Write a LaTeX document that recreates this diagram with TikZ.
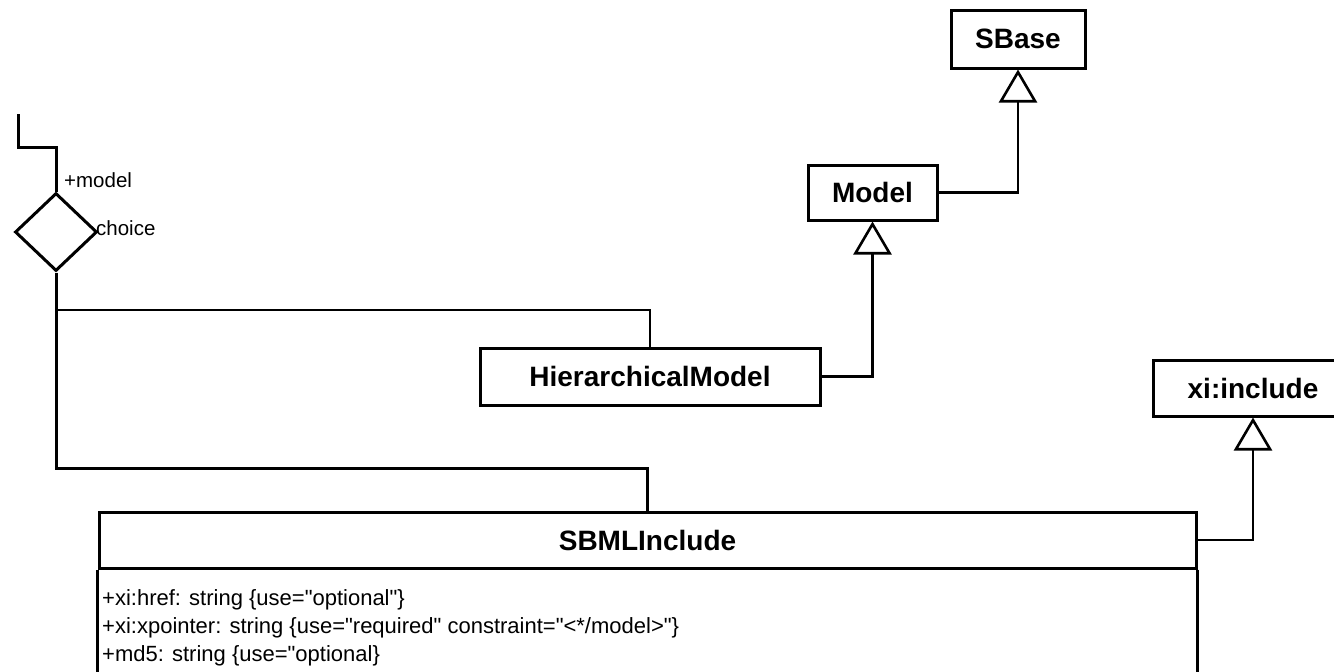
\documentclass[tikz,border=0pt]{standalone}
\usepackage{fontspec}
\setmainfont{Liberation Sans}[Ligatures=TeXOff]
\usetikzlibrary{arrows.meta,shapes.geometric}
\tikzset{
  classbox/.style={draw, line width=3pt, inner sep=0pt, fill=white,
    font=\fontsize{28}{30}\selectfont\bfseries},
  conn/.style={line width=2.6pt},
  inh/.style={line width=2.6pt, -{Triangle[open, length=33pt, width=38pt, line width=2.6pt]}},
  small/.style={font=\fontsize{20.5}{24}\selectfont, inner sep=0pt},
  attr/.style={font=\fontsize{22}{26}\selectfont, inner sep=0pt, anchor=west}
}
\begin{document}
\begin{tikzpicture}[x=1pt, y=-1pt]
\useasboundingbox (0,0) rectangle (1334,672);
\clip (0,0) rectangle (1334,672);

% classes
\node[classbox, minimum width=134pt, minimum height=58pt] (sbase) at (1018,39) {SBase};
\node[classbox, minimum width=129pt, minimum height=55pt] (model) at (872.5,192.5) {Model};
\node[classbox, minimum width=340pt, minimum height=57pt] (hm) at (650,376.5) {HierarchicalModel};
\node[classbox, minimum width=200pt, minimum height=56pt] (xinc) at (1253,388) {xi:include};
\node[classbox, minimum width=1097pt, minimum height=56pt] (sbml) at (647.5,540) {SBMLInclude};
\draw[line width=3pt] (sbml.south west) -- ++(0,130) (sbml.south east) -- ++(0,130);

% attributes
\node[attr] (a1) at (102,600) {+xi:href: string \{use="optional"\}};
\node[attr] (a2) at (102,628) {+xi:xpointer: string \{use="required" constraint="<*/model>"\}};
\node[attr] (a3) at (102,656) {+md5: string \{use="optional\}};

% choice diamond
\node[diamond, draw, line width=3pt, inner sep=0pt, minimum width=82pt, minimum height=78pt] (dia) at (56,232) {};
\node[small, anchor=west] (lmodel) at (64,180) {+model};
\node[small, anchor=west] (lchoice) at (96,228) {choice};

% connectors
\coordinate (tl) at (18,114);
\coordinate (tlb) at (18,147);
\coordinate (j1) at (56,310);
\coordinate (j2) at (56,468);
\draw[conn, line width=3pt] (tl) -- (tlb) -| (dia.north);
\draw[conn, line width=3pt] (dia.south) -- (j2) -| (sbml.north);
\draw[conn] (j1) -| (hm.north);

\draw[inh] (hm.east) -| (model.south);
\draw[inh] (model.east) -| (sbase.south);
\draw[inh] (sbml.east) -| (xinc.south);
\end{tikzpicture}
\end{document}
